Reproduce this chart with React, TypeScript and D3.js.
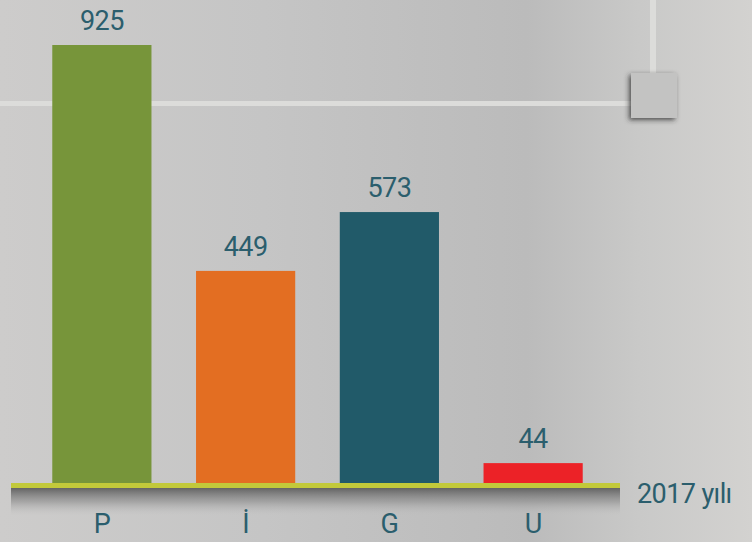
import React from "react";
import * as d3 from "d3";

const categories = ["P", "İ", "G", "U"];
const values = [925, 449, 573, 44];
const colors = ["#77953A", "#E36E22", "#215A69", "#EC2227"];
const yearLabel = "2017 yılı";

const W = 752;
const H = 542;
const baseY = 484;
const textColor = "#2B5E6D";
const font = "Roboto, 'DejaVu Sans', sans-serif";

export default function App() {
  const x = d3
    .scaleBand<string>()
    .domain(categories)
    .range([30, 605])
    .paddingInner(0.31)
    .paddingOuter(0.155);
  const y = d3.scaleLinear().domain([0, 925]).range([baseY, 45]);

  const textProps = {
    fontFamily: font,
    fontSize: 27,
    fontWeight: 400,
    letterSpacing: -0.6,
    fill: textColor,
  };

  return (
    <svg
      width={W}
      height={H}
      style={{ position: "absolute", left: 0, top: 0, display: "block" }}
    >
      <defs>
        <linearGradient id="bg" x1="0" x2="1" y1="0" y2="0">
          <stop offset="0" stopColor="#CDCCCB" />
          <stop offset="0.35" stopColor="#C5C5C5" />
          <stop offset="0.7" stopColor="#BBBBBB" />
          <stop offset="0.85" stopColor="#C9C9C8" />
          <stop offset="1" stopColor="#D3D2D0" />
        </linearGradient>
        <linearGradient id="shadow" x1="0" x2="0" y1="0" y2="1">
          <stop offset="0" stopColor="#5E5E5E" stopOpacity="0.95" />
          <stop offset="0.5" stopColor="#8E8E8E" stopOpacity="0.6" />
          <stop offset="1" stopColor="#C2C2C2" stopOpacity="0" />
        </linearGradient>
        <filter id="sq" x="-30%" y="-30%" width="160%" height="160%">
          <feDropShadow dx="-2" dy="2" stdDeviation="2.5" floodColor="#333" floodOpacity="0.8" />
        </filter>
      </defs>
      <rect x={0} y={0} width={W} height={H} fill="url(#bg)" />
      {/* decorative white lines */}
      <rect x={0} y={101} width={632} height={5} fill="#DCDCDA" />
      <rect x={650} y={0} width={6} height={73} fill="#DCDCDA" />
      <rect x={631} y={73} width={46} height={45} fill="#C3C3C2" filter="url(#sq)" />

      {/* bars */}
      {categories.map((c, i) => (
        <rect
          key={c}
          x={x(c)}
          y={y(values[i])}
          width={x.bandwidth()}
          height={baseY - y(values[i])}
          fill={colors[i]}
        />
      ))}
      {/* value labels */}
      {categories.map((c, i) => (
        <text
          key={c + "v"}
          x={(x(c) as number) + x.bandwidth() / 2}
          y={y(values[i]) - 15}
          textAnchor="middle"
          {...textProps}
        >
          {values[i]}
        </text>
      ))}
      {/* baseline */}
      <rect x={11} y={488} width={609} height={28} fill="url(#shadow)" />
      <rect x={11} y={483} width={609} height={5} fill="#C2C93A" />
      {/* category labels */}
      {categories.map((c) => (
        <text
          key={c + "c"}
          x={(x(c) as number) + x.bandwidth() / 2}
          y={533}
          textAnchor="middle"
          {...textProps}
        >
          {c}
        </text>
      ))}
      <text x={637} y={503} {...textProps}>
        {yearLabel}
      </text>
    </svg>
  );
}
